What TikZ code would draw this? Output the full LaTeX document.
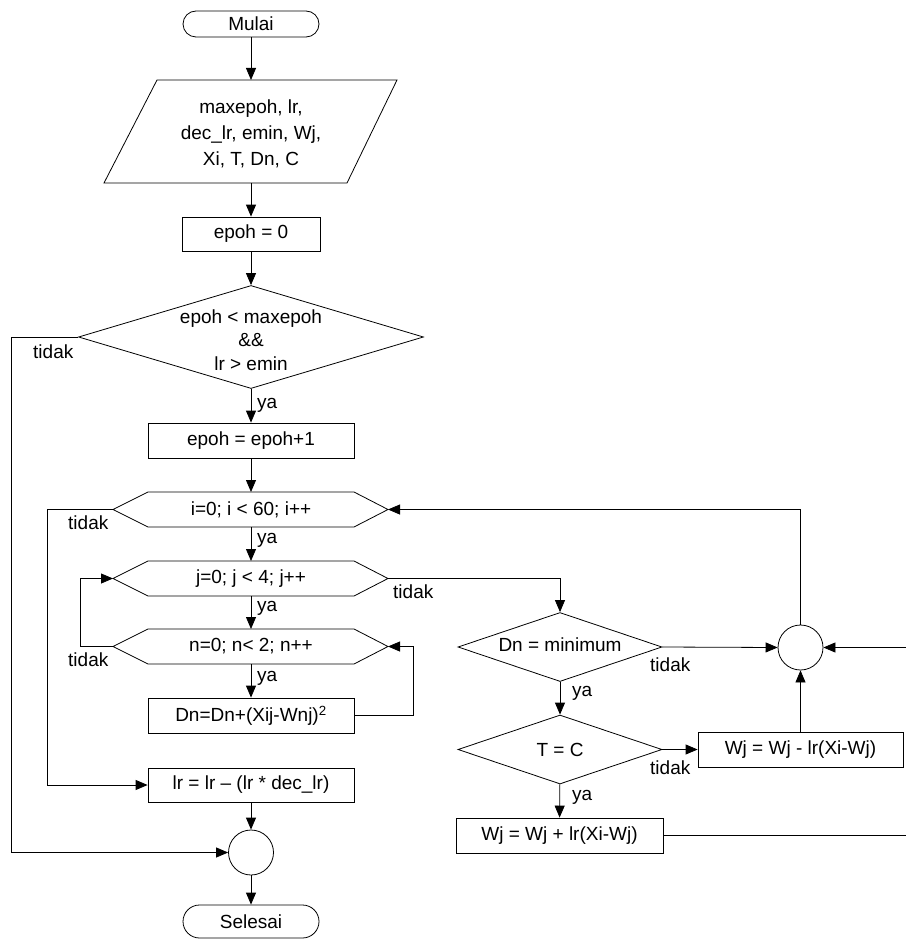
\documentclass[tikz,border=0pt]{standalone}
\usepackage{fontspec}
\setmainfont{Liberation Sans}
\usetikzlibrary{arrows.meta,shapes.geometric,calc}
\newcommand\fs{\fontsize{19}{23.5}\selectfont}
\tikzset{
  base/.style={draw, line width=0.8pt, inner sep=0pt, font=\fs},
  term/.style={base, minimum width=136pt},
  proc/.style={base, minimum height=35pt},
  dia/.style={base, diamond},
  junc/.style={base, circle, minimum size=45pt},
  txt/.style={font=\fs, inner sep=0pt, align=center},
  lbl/.style={font=\fs, inner sep=0pt, anchor=west},
  conn/.style={line width=0.8pt, -{Triangle[length=12pt,width=10pt]}},
  plain/.style={line width=0.8pt}
}
\begin{document}
\begin{tikzpicture}[x=1pt,y=-1pt]
\useasboundingbox[fill=white] (0,0) rectangle (905,944);

% start
\node[term, rounded corners=13pt, minimum height=26pt] (mulai) at (251,24) {Mulai};

% input parallelogram
\coordinate (pTL) at (157,80);
\coordinate (pTR) at (397,80);
\coordinate (pBR) at (347,183);
\coordinate (pBL) at (104,183);
\draw[plain] (pTL) -- (pTR) -- (pBR) -- (pBL) -- cycle;
\coordinate (pTop) at (251,80);
\coordinate (pBot) at (251,183);
\node[txt, font=\fontsize{19}{26}\selectfont] (inp) at (251,134) {maxepoh, lr,\\dec\_lr, emin, Wj,\\Xi, T, Dn, C};

\node[proc, minimum width=138pt, minimum height=34pt] (e0) at (251,234) {epoh = 0};

\node[dia, minimum width=345pt, minimum height=103pt] (d1) at (251,337) {};
\node[txt] (d1t) at (251,340) {epoh < maxepoh\\\&\&\\lr > emin};

\node[proc, minimum width=206pt] (e1) at (251,440.5) {epoh = epoh+1};

% hexagons
\foreach \nm/\yy in {i/509.5, j/578.5, n/646.5}{
  \coordinate (\nm L) at (113,\yy);
  \coordinate (\nm R) at (388,\yy);
  \coordinate (\nm Top) at (251,\yy-17.5);
  \coordinate (\nm Bot) at (251,\yy+17.5);
  \draw[plain] (\nm L) -- (148,\yy-17.5) -- (354,\yy-17.5) -- (\nm R)
     -- (354,\yy+17.5) -- (148,\yy+17.5) -- cycle;
}
\node[txt] (it) at (251,509.5) {i=0; i < 60; i++};
\node[txt] (jt) at (251,578.5) {j=0; j < 4; j++};
\node[txt] (nt) at (251,646.5) {n=0; n< 2; n++};

\node[proc, minimum width=206pt] (dn) at (251,715.5) {Dn=Dn+(Xij-Wnj)\textsuperscript{2}};
\node[proc, minimum width=206pt, minimum height=34pt] (lr) at (251,785) {lr = lr -- (lr * dec\_lr)};
\node[junc] (c1) at (251,852.5) {};
\node[term, rounded corners=16.5pt, minimum height=33pt] (sel) at (251,921.5) {Selesai};

% right part
\node[dia, minimum width=204pt, minimum height=69pt] (dmin) at (560,647) {};
\node[txt] (dmint) at (560,645) {Dn = minimum};
\node[dia, minimum width=204pt, minimum height=69pt] (tc) at (560,749.5) {};
\node[txt] (tct) at (560,749.5) {T = C};
\node[proc, minimum width=207pt] (wplus) at (559.5,835.5) {Wj = Wj + lr(Xi-Wj)};
\node[proc, minimum width=205pt] (wminus) at (800.5,749.5) {Wj = Wj - lr(Xi-Wj)};
\node[junc] (c2) at (800.5,647.5) {};

% main flow
\draw[conn] (mulai) -- (pTop);
\draw[conn] (pBot) -- (e0);
\draw[conn] (e0) -- (d1);
\draw[conn] (d1) -- (e1);
\draw[conn] (e1) -- (iTop);
\draw[conn] (iBot) -- (jTop);
\draw[conn] (jBot) -- (nTop);
\draw[conn] (nBot) -- (dn);
\draw[conn] (lr) -- (c1);
\draw[conn] (c1) -- (sel);

\node[lbl] (ya1) at (257,405) {ya};
\node[lbl] (ya2) at (257,540) {ya};
\node[lbl] (ya3) at (257,608) {ya};
\node[lbl] (ya4) at (257,678) {ya};

% loops
\draw[conn] (dn.east) -| (413,646.5) -- (nR);
\draw[conn] (nL) -- (80,646.5) |- (jL);
\node[lbl] (t1) at (68,660) {tidak};
\draw[conn] (iL) -- (47,509.5) |- (lr.west);
\node[lbl] (t2) at (68,523) {tidak};
\draw[conn] (d1.west) -- (11,337) |- (c1.west);
\node[lbl] (t3) at (33,352) {tidak};
\draw[conn] (jR) -| (dmin.north);
\node[lbl] (t4) at (393,592) {tidak};

% right flow
\draw[conn] (dmin) -- (tc);
\node[lbl] (ya5) at (572,693) {ya};
\draw[conn] (dmin.east) -- (c2.west);
\node[lbl] (t5) at (650,665) {tidak};
\draw[conn] (tc.east) -- (wminus.west);
\node[lbl] (t6) at (650,768) {tidak};
\draw[conn] (tc) -- (wplus);
\node[lbl] (ya6) at (572,797) {ya};
\draw[conn] (wminus) -- (c2);
\draw[conn] (c2.north) |- (iR);
\draw[conn] (wplus.east) -- (915,835.5) |- (c2.east);
\end{tikzpicture}
\end{document}
